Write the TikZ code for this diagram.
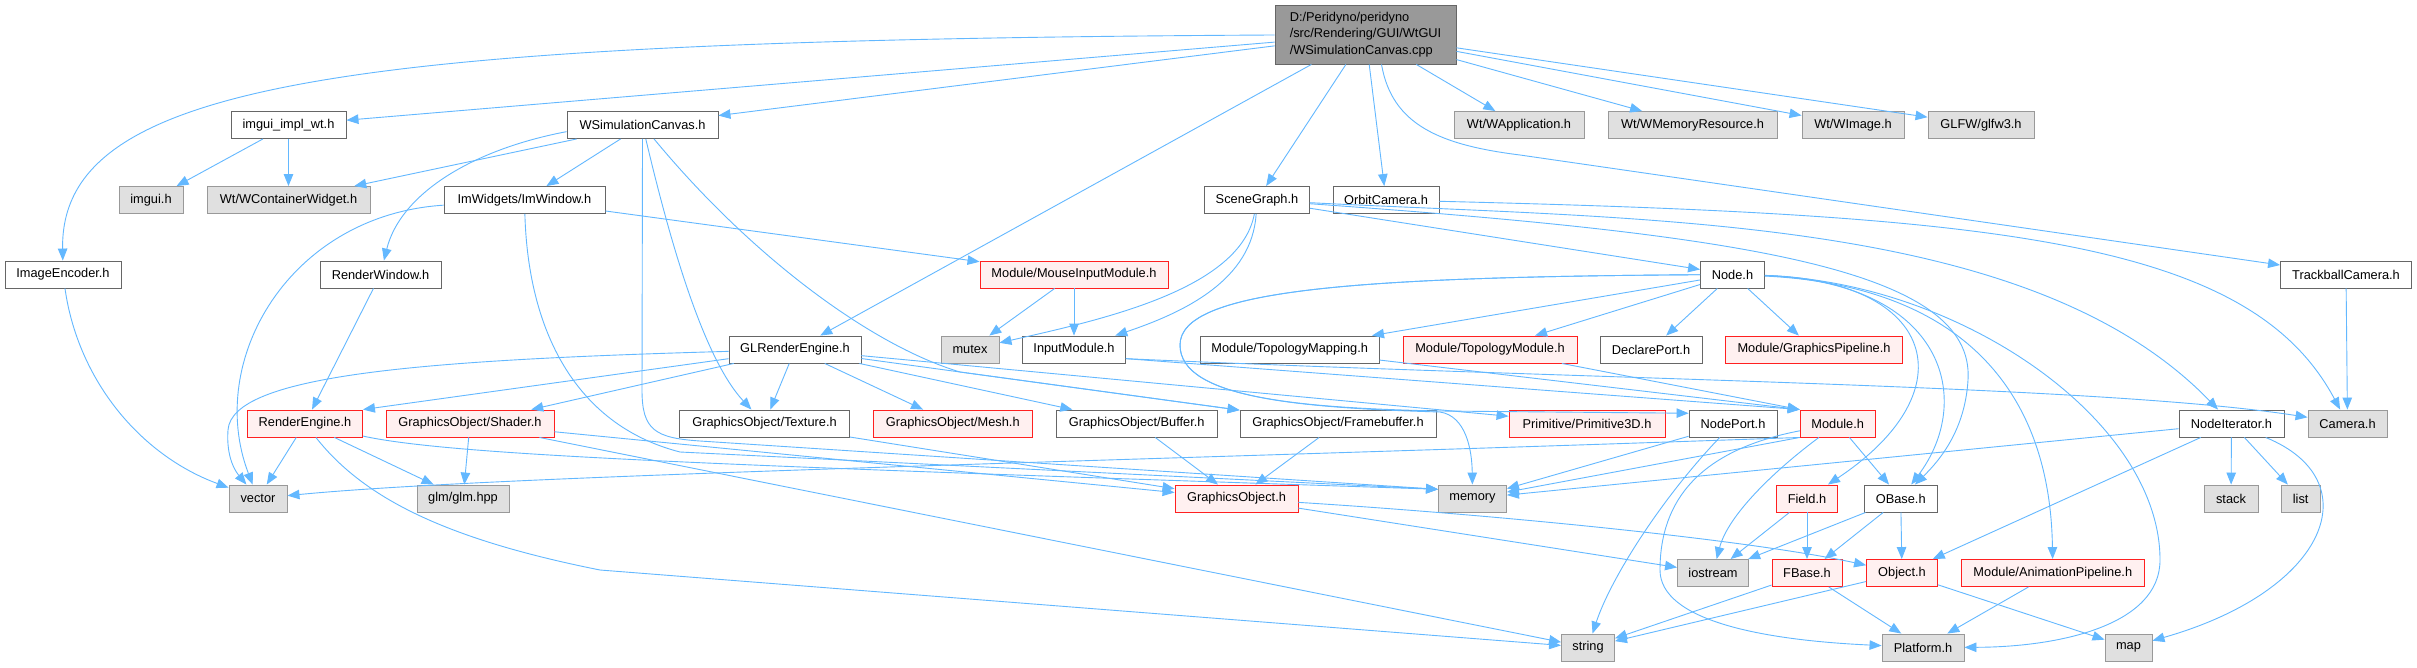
\documentclass[tikz,border=0pt]{standalone}
\usepackage{fontspec}
\setmainfont{Liberation Sans}
\usepackage{xcolor}
\usetikzlibrary{arrows.meta}

\definecolor{edgeblue}{HTML}{63B8FF}
\definecolor{sysfill}{HTML}{E0E0E0}
\definecolor{sysdraw}{HTML}{999999}
\definecolor{hdrdraw}{HTML}{666666}
\definecolor{truncfill}{HTML}{FFF0F0}
\definecolor{truncdraw}{HTML}{FF2020}
\definecolor{rootfill}{HTML}{999999}

\begin{document}
\begin{tikzpicture}[
        x=1pt, y=-1pt,
        hdr/.style={
            rectangle, draw=hdrdraw, fill=white, line width=0.9pt,
            minimum height=27pt, inner sep=0pt,
            font=\fontsize{12.8}{16.2}\selectfont
        },
        sysinc/.style={hdr, draw=sysdraw, fill=sysfill},
        trunc/.style={hdr, draw=truncdraw, fill=truncfill},
        arrow/.style={-{Triangle[length=12pt,width=9.5pt]}, draw=edgeblue, line width=0.9pt}
    ]
        \fill[white] (0,0) rectangle (2417,667);
        \useasboundingbox (0,0) rectangle (2417,667);

        \node[hdr, fill=rootfill, minimum width=181pt, minimum height=59pt, align=left]
            (root) at (1365.5,34.5) {D:/Peridyno/peridyno\\/src/Rendering/GUI/WtGUI\\/WSimulationCanvas.cpp};

        \node[hdr, minimum width=115pt] (imguiwt) at (288.5,125) {imgui\_impl\_wt.h};
        \node[hdr, minimum width=151pt] (wsc) at (642.5,125) {WSimulationCanvas.h};
        \node[sysinc, minimum width=130pt] (wapp) at (1519,125) {Wt/WApplication.h};
        \node[sysinc, minimum width=169pt] (wmem) at (1692.5,125) {Wt/WMemoryResource.h};
        \node[sysinc, minimum width=102pt] (wimage) at (1853,125) {Wt/WImage.h};
        \node[sysinc, minimum width=106pt] (glfw) at (1981,125) {GLFW/glfw3.h};

        \node[sysinc, minimum width=64pt] (imgui) at (151,200) {imgui.h};
        \node[sysinc, minimum width=163pt] (wcont) at (288.5,200) {Wt/WContainerWidget.h};
        \node[hdr, minimum width=161pt] (imwin) at (524.5,200) {ImWidgets/ImWindow.h};
        \node[hdr, minimum width=105pt] (scenegraph) at (1257,200) {SceneGraph.h};
        \node[hdr, minimum width=106pt] (orbitcam) at (1386,200) {OrbitCamera.h};

        \node[hdr, minimum width=116pt] (imgenc) at (63,274.5) {ImageEncoder.h};
        \node[hdr, minimum width=121pt] (renderwin) at (380.5,274.5) {RenderWindow.h};
        \node[trunc, minimum width=188pt] (mouseinput) at (1074,274.5) {Module/MouseInputModule.h};
        \node[hdr, minimum width=64pt] (nodeh) at (1732.5,274.5) {Node.h};
        \node[hdr, minimum width=131pt] (trackcam) at (2346,274.5) {TrackballCamera.h};

        \node[hdr, minimum width=132pt] (glrender) at (795,349.5) {GLRenderEngine.h};
        \node[sysinc, minimum width=58pt] (mutex) at (970,349.5) {mutex};
        \node[hdr, minimum width=103pt] (inputmod) at (1074,349.5) {InputModule.h};
        \node[hdr, minimum width=179pt] (topomap) at (1289.7,349.5) {Module/TopologyMapping.h};
        \node[trunc, minimum width=174pt] (topomod) at (1490,349.5) {Module/TopologyModule.h};
        \node[hdr, minimum width=102pt] (declport) at (1651,349.5) {DeclarePort.h};
        \node[trunc, minimum width=177pt] (gfxpipe) at (1814,349.5) {Module/GraphicsPipeline.h};

        \node[trunc, minimum width=115pt] (renderengine) at (305,423.5) {RenderEngine.h};
        \node[trunc, minimum width=168pt] (shader) at (470,423.5) {GraphicsObject/Shader.h};
        \node[hdr, minimum width=170pt] (texture) at (764.5,423.5) {GraphicsObject/Texture.h};
        \node[trunc, minimum width=159pt] (mesh) at (952.8,423.5) {GraphicsObject/Mesh.h};
        \node[hdr, minimum width=161pt] (buffer) at (1136.7,423.5) {GraphicsObject/Buffer.h};
        \node[hdr, minimum width=196pt] (framebuf) at (1338,423.5) {GraphicsObject/Framebuffer.h};
        \node[trunc, minimum width=156pt] (prim3d) at (1587,423.5) {Primitive/Primitive3D.h};
        \node[hdr, minimum width=88pt] (nodeport) at (1733,423.5) {NodePort.h};
        \node[trunc, minimum width=75pt] (module) at (1837.7,423.5) {Module.h};
        \node[hdr, minimum width=105pt] (nodeiter) at (2231.5,423.5) {NodeIterator.h};
        \node[sysinc, minimum width=79pt] (camera) at (2347.5,423.5) {Camera.h};

        \node[sysinc, minimum width=58pt] (vector) at (258,498.5) {vector};
        \node[sysinc, minimum width=92pt] (glm) at (463,498.5) {glm/glm.hpp};
        \node[trunc, minimum width=123pt] (gfxobj) at (1236.5,498.5) {GraphicsObject.h};
        \node[sysinc, minimum width=68pt] (memory) at (1472.5,498.5) {memory};
        \node[trunc, minimum width=61pt] (field) at (1807,498.5) {Field.h};
        \node[hdr, minimum width=73pt] (obase) at (1900.7,498.5) {OBase.h};
        \node[sysinc, minimum width=54pt] (stack) at (2231,498.5) {stack};
        \node[sysinc, minimum width=39pt] (list) at (2300.7,498.5) {list};

        \node[sysinc, minimum width=71pt] (iostream) at (1713,573) {iostream};
        \node[trunc, minimum width=70pt] (fbase) at (1807,573) {FBase.h};
        \node[trunc, minimum width=71pt] (object) at (1902,573) {Object.h};
        \node[trunc, minimum width=183pt] (animpipe) at (2052.8,573) {Module/AnimationPipeline.h};

        \node[sysinc, minimum width=53pt] (string) at (1588,647.5) {string};
        \node[sysinc, minimum width=82pt] (platform) at (1923,647.5) {Platform.h};
        \node[sysinc, minimum width=47pt] (map) at (2128.5,647.5) {map};

        \draw[arrow] (root) .. controls (350,40) and (60,80) .. (imgenc);
        \draw[arrow] (root) -- (imguiwt);
        \draw[arrow] (root) -- (wsc);
        \draw[arrow] (root) -- (glrender);
        \draw[arrow] (root) -- (scenegraph);
        \draw[arrow] (root) -- (orbitcam);
        \draw[arrow] (root) -- (wapp);
        \draw[arrow] (root) -- (wmem);
        \draw[arrow] (root) -- (wimage);
        \draw[arrow] (root) -- (glfw);
        \draw[arrow] ([xshift=16pt]root.south) .. controls (1392,125) and (1440,145) .. (1520,155) -- (trackcam);

        \draw[arrow] (imguiwt) -- (imgui);
        \draw[arrow] (imguiwt) -- (wcont);
        \draw[arrow] (wsc) -- (wcont);
        \draw[arrow] (wsc) -- (imwin);
        \draw[arrow] (wsc.185) .. controls (470,150) and (400,195) .. (renderwin);
        \draw[arrow] (wsc) .. controls (672,250) and (705,360) .. (texture);
        \draw[arrow] (wsc.south) -- (642,390) .. controls (642,430) and (655,438) .. (700,441) -- (memory.165);
        \draw[arrow] (wsc) .. controls (750,255) and (870,345) .. (960,372) -- (framebuf);

        \draw[arrow] (imwin) .. controls (290,215) and (205,360) .. (vector);
        \draw[arrow] (imwin) -- (mouseinput);
        \draw[arrow] (imwin) .. controls (528,330) and (575,425) .. (680,452) -- (memory.165);
        \draw[arrow] (imgenc) .. controls (78,380) and (140,455) .. (vector);
        \draw[arrow] (renderwin) -- (renderengine);

        \draw[arrow] (mouseinput) -- (mutex);
        \draw[arrow] (mouseinput) -- (inputmod);
        \draw[arrow] (scenegraph) .. controls (1240,290) and (1100,320) .. (mutex);
        \draw[arrow] (scenegraph) .. controls (1252,280) and (1185,312) .. (inputmod);
        \draw[arrow] (scenegraph) -- (nodeh);
        \draw[arrow] (scenegraph) .. controls (1650,220) and (2030,215) .. (nodeiter);
        \draw[arrow] (scenegraph) .. controls (1750,235) and (1975,270) .. (1968,380) .. controls (1965,430) and (1940,460) .. (obase);
        \draw[arrow] (orbitcam) .. controls (2000,215) and (2250,240) .. (camera);
        \draw[arrow] (trackcam) -- (camera);

        \draw[arrow] (nodeh) -- (declport);
        \draw[arrow] (nodeh) -- (gfxpipe);
        \draw[arrow] (nodeh) -- (topomap);
        \draw[arrow] (nodeh) -- (topomod);
        \draw[arrow] (nodeh) .. controls (1350,277) and (1180,290) .. (1180,345) .. controls (1180,398) and (1300,408) .. (1440,412) .. controls (1466,416) and (1472,450) .. (memory);
        \draw[arrow] (nodeh) .. controls (1350,277) and (1180,290) .. (1180,345) .. controls (1180,398) and (1300,408) .. (1440,411) -- (nodeport.167);
        \draw[arrow] (nodeh) .. controls (1935,280) and (1970,390) .. (field);
        \draw[arrow] (nodeh) .. controls (1945,282) and (1975,400) .. (obase);
        \draw[arrow] (nodeh) .. controls (1950,285) and (2050,380) .. (animpipe);
        \draw[arrow] (nodeh) .. controls (1960,282) and (2160,420) .. (2160,560) .. controls (2160,625) and (2060,647) .. (platform);

        \draw[arrow] (glrender) .. controls (420,360) and (232,375) .. (228,430) .. controls (226,458) and (236,472) .. (vector);
        \draw[arrow] (glrender) -- (renderengine.north east);
        \draw[arrow] (glrender) -- (shader);
        \draw[arrow] (glrender) -- (texture);
        \draw[arrow] (glrender) -- (mesh);
        \draw[arrow] (glrender) -- (buffer);
        \draw[arrow] (glrender) -- (framebuf);
        \draw[arrow] (glrender) -- (prim3d);

        \draw[arrow] (inputmod.-10) -- (module.north west);
        \draw[arrow] (inputmod.-10) .. controls (1600,380) and (2100,385) .. (camera);
        \draw[arrow] (topomap) -- (module.north west);
        \draw[arrow] (topomod) -- (module.north west);

        \draw[arrow] (renderengine) -- (vector);
        \draw[arrow] (renderengine) -- (glm);
        \draw[arrow] (renderengine) .. controls (365,500) and (450,540) .. (600,570) -- (string);
        \draw[arrow] (renderengine) .. controls (450,455) and (700,465) .. (memory.165);
        \draw[arrow] (shader) -- (glm);
        \draw[arrow] (shader) -- (gfxobj);
        \draw[arrow] (shader) -- (string);
        \draw[arrow] (texture) -- (gfxobj);
        \draw[arrow] (buffer) -- (gfxobj);
        \draw[arrow] (framebuf) -- (gfxobj);
        \draw[arrow] (gfxobj) .. controls (1500,515) and (1750,540) .. (object);
        \draw[arrow] (gfxobj) -- (iostream);

        \draw[arrow] (nodeport) -- (memory);
        \draw[arrow] (nodeport) .. controls (1660,500) and (1610,580) .. (string);
        \draw[arrow] (module) -- (obase);
        \draw[arrow] (module.south west) -- (memory);
        \draw[arrow] (module.south west) .. controls (1100,462) and (500,475) .. (vector);
        \draw[arrow] (module) .. controls (1775,470) and (1728,515) .. (iostream);
        \draw[arrow] (module) .. controls (1700,450) and (1660,500) .. (1660,570) .. controls (1660,620) and (1760,640) .. (platform);

        \draw[arrow] (nodeiter) -- (memory);
        \draw[arrow] (nodeiter) -- (object);
        \draw[arrow] (nodeiter) -- (stack);
        \draw[arrow] (nodeiter) -- (list);
        \draw[arrow] (nodeiter) .. controls (2370,480) and (2330,590) .. (map);

        \draw[arrow] (field) -- (iostream);
        \draw[arrow] (field) -- (fbase);
        \draw[arrow] (obase) -- (iostream);
        \draw[arrow] (obase) -- (fbase);
        \draw[arrow] (obase) -- (object);
        \draw[arrow] (fbase) -- (string);
        \draw[arrow] (fbase) -- (platform);
        \draw[arrow] (object) -- (string);
        \draw[arrow] (object) -- (map);
        \draw[arrow] (animpipe) -- (platform);
\end{tikzpicture}
\end{document}
